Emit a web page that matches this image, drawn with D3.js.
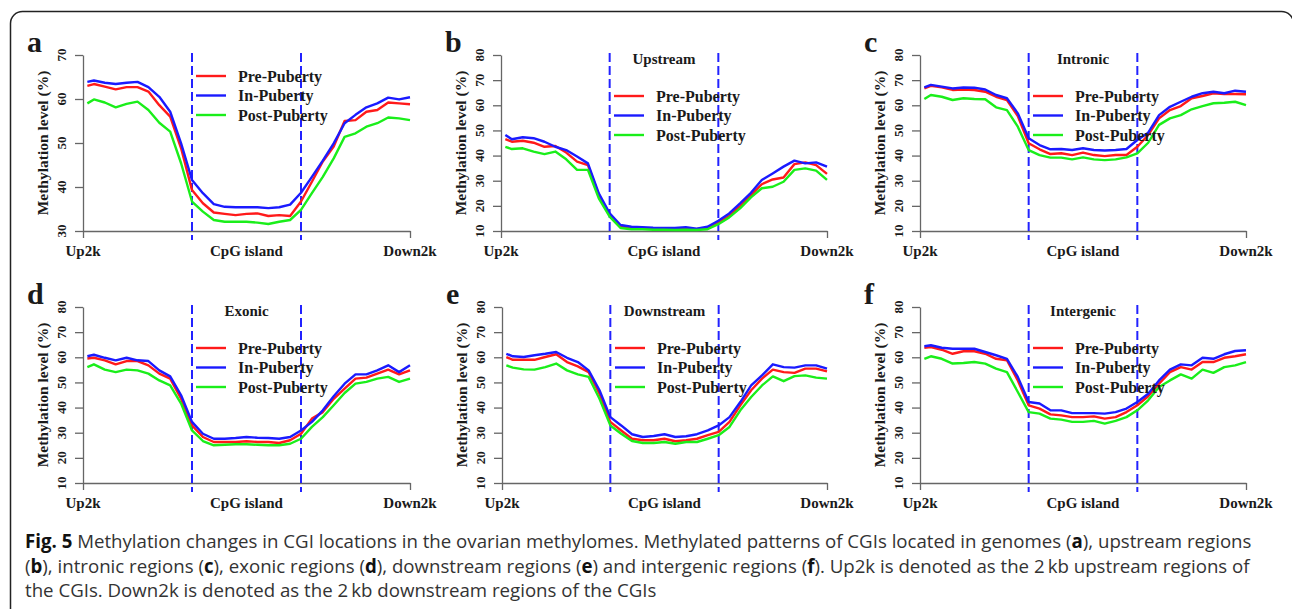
<!DOCTYPE html>
<html lang="en">
<head>
<meta charset="utf-8">
<title>Fig. 5 CGI methylation</title>
<script src="https://cdnjs.cloudflare.com/ajax/libs/d3/7.8.5/d3.min.js"></script>
<style>
	body { margin: 0; background: #fff; }
	svg { display: block; }
	.ser { font-family: "Liberation Serif", "Times New Roman", serif; font-weight: bold; fill: #1a1a1a; }
	.cap { font-family: "Open Sans", "Noto Sans", sans-serif; fill: #333; }
</style>
</head>
<body>
<svg id="fig" width="1292" height="609"></svg>
<script>
// bin positions along Up2k | CpG island | Down2k (0..3)
var binPos = [0.04,0.1,0.2,0.3,0.4,0.5,0.6,0.7,0.8,0.9,1.0,1.1,1.2,1.3,1.4,1.5,1.6,1.7,1.8,1.9,2.0,2.1,2.2,2.3,2.4,2.5,2.6,2.7,2.8,2.9,3.0];
var xLabels = ['Up2k', 'CpG island', 'Down2k'];
var xLabelPos = [0, 1.5, 3];
var seriesNames = ['Pre-Puberty', 'In-Puberty', 'Post-Puberty'];
var seriesColors = ['#ff1a1a', '#1a1aff', '#1aee1a'];

// a: genomes
var genomePre  = [63.0,63.4,62.8,62.2,62.7,62.7,61.7,58.6,56.0,48.8,39.3,36.3,34.2,33.9,33.6,33.9,34.0,33.4,33.6,33.4,36.7,41.2,45.8,49.2,55.0,55.2,57.1,57.5,59.2,59.0,58.8];
var genomeIn   = [63.9,64.2,63.7,63.4,63.7,63.9,62.7,60.5,57.1,49.9,41.6,38.6,36.1,35.5,35.4,35.4,35.4,35.2,35.4,36.0,38.7,42.3,46.0,49.9,54.5,56.4,58.1,59.0,60.3,59.9,60.4];
var genomePost = [59.0,59.9,59.2,58.1,58.9,59.4,57.5,54.6,52.6,45.4,36.7,34.4,32.5,32.1,32.1,32.1,31.9,31.6,32.1,32.5,34.8,38.6,42.3,46.5,51.4,52.2,53.7,54.5,55.8,55.6,55.2];
// b: upstream
var upPre  = [46.5,45.5,45.9,45.1,43.5,43.8,41.2,37.6,36.2,24.3,16.4,11.7,11.3,11.2,10.9,10.9,10.8,10.9,10.7,11.2,13.3,16.0,19.9,24.3,28.6,30.5,31.3,36.6,37.3,36.2,32.7];
var upIn   = [48.2,46.5,47.3,46.9,45.5,43.5,42.2,39.6,36.9,25.0,17.0,12.4,11.7,11.5,11.3,11.2,11.2,11.5,10.9,11.7,14.1,17.0,21.0,25.2,30.3,32.9,35.6,38.0,36.9,37.3,35.6];
var upPost = [43.5,42.6,42.9,41.6,40.6,41.6,38.5,34.3,34.3,23.0,15.7,11.2,10.7,10.7,10.5,10.5,10.4,10.5,10.4,10.7,12.7,15.4,19.0,23.4,27.0,27.6,29.6,34.3,34.9,34.0,30.3];
// c: intronic
var intronPre  = [66.7,67.7,67.1,66.1,66.3,66.1,65.4,63.4,62.1,55.7,44.9,42.5,40.6,40.9,40.2,41.2,40.2,39.8,40.2,40.2,43.5,48.2,54.8,58.1,59.7,62.8,63.7,64.8,64.5,64.5,64.4];
var intronIn   = [67.1,68.1,67.4,66.7,67.1,67.0,66.3,64.1,62.8,56.8,46.9,44.2,42.5,42.6,42.2,42.9,42.2,42.0,42.2,42.6,46.2,49.1,56.1,59.4,61.4,63.4,64.8,65.4,64.8,65.8,65.4];
var intronPost = [62.5,64.1,63.4,62.1,62.8,62.5,62.4,59.2,58.1,51.5,42.2,40.2,39.2,39.2,38.5,39.3,38.5,38.2,38.5,39.3,40.9,45.1,52.2,54.8,56.1,58.4,59.7,60.8,61.0,61.4,60.1];
// d: exonic
var exonPre  = [59.5,59.8,58.8,57.2,58.5,58.5,56.8,53.5,51.5,43.5,32.9,28.3,26.3,26.3,26.3,26.6,26.3,26.3,25.9,27.0,29.6,35.6,38.2,43.5,47.5,51.5,51.9,53.5,55.1,53.2,54.8];
var exonIn   = [60.4,61.0,59.8,58.8,59.8,58.8,58.5,54.8,52.4,44.9,34.3,29.6,27.6,27.6,27.9,28.3,28.0,27.9,27.6,28.3,30.9,34.3,38.9,44.5,49.5,53.2,53.2,54.8,56.8,54.1,56.8];
var exonPost = [56.1,57.2,55.1,54.1,55.1,54.8,53.5,50.8,48.8,41.6,30.9,26.7,25.0,25.2,25.4,25.4,25.2,25.0,25.0,25.6,27.6,32.3,36.2,40.9,45.8,49.5,50.2,51.5,52.2,50.2,51.5];
// e: downstream
var downPre  = [60.1,59.0,59.0,59.0,60.1,61.2,58.1,56.4,54.1,45.5,34.3,30.9,27.6,27.0,27.0,27.6,26.6,27.0,27.6,29.0,30.3,34.3,40.9,46.9,51.5,55.1,54.1,53.8,55.5,55.5,54.4];
var downIn   = [61.4,60.4,60.1,60.8,61.4,62.1,59.8,58.1,54.8,46.9,36.2,32.9,29.4,28.3,28.7,29.4,28.3,28.6,29.4,30.9,32.9,36.2,42.2,48.8,52.8,57.2,56.1,55.9,56.8,56.8,55.5];
var downPost = [56.8,55.9,55.2,55.1,56.1,57.5,54.8,53.2,52.2,43.5,32.9,29.6,26.7,25.9,25.9,26.3,25.6,26.3,26.3,27.6,29.0,32.3,38.9,44.2,48.8,52.4,50.5,52.5,52.8,51.9,51.5];
// f: intergenic
var interPre  = [63.8,64.1,63.0,61.4,62.4,62.4,61.4,59.4,58.8,50.8,40.9,39.6,37.3,36.9,36.2,36.2,36.5,35.6,36.2,38.2,40.9,44.5,49.5,54.1,56.1,55.1,58.1,58.1,59.8,60.4,61.2];
var interIn   = [64.4,64.8,63.8,63.4,63.4,63.4,62.1,60.8,59.4,52.2,42.2,41.6,38.9,38.9,37.8,37.8,37.8,37.6,38.2,39.6,42.2,45.5,50.8,55.1,57.2,56.8,59.8,59.4,61.2,62.5,62.8];
var interPost = [59.4,60.4,59.4,57.5,57.7,58.1,57.5,55.5,54.1,46.2,38.2,37.6,35.6,35.2,34.3,34.3,34.7,33.6,34.7,36.2,38.9,42.9,48.2,50.8,53.2,51.5,55.1,53.8,56.1,56.8,58.1];

var ticksA = [30, 40, 50, 60, 70];
var ticksB = [10, 20, 30, 40, 50, 60, 70, 80];

var panels = [
	{ key: 'a', title: null,         x0: 83,  x1: 410,  top: 55,  bottom: 231, dom: [30, 70], ticks: ticksA, data: [genomePre, genomeIn, genomePost] },
	{ key: 'b', title: 'Upstream',   x0: 501, x1: 827,  top: 55,  bottom: 231, dom: [10, 80], ticks: ticksB, data: [upPre, upIn, upPost] },
	{ key: 'c', title: 'Intronic',   x0: 920, x1: 1246, top: 55,  bottom: 231, dom: [10, 80], ticks: ticksB, data: [intronPre, intronIn, intronPost] },
	{ key: 'd', title: 'Exonic',     x0: 83,  x1: 410,  top: 307, bottom: 483, dom: [10, 80], ticks: ticksB, data: [exonPre, exonIn, exonPost] },
	{ key: 'e', title: 'Downstream', x0: 502, x1: 827,  top: 307, bottom: 483, dom: [10, 80], ticks: ticksB, data: [downPre, downIn, downPost] },
	{ key: 'f', title: 'Intergenic', x0: 920, x1: 1246, top: 307, bottom: 483, dom: [10, 80], ticks: ticksB, data: [interPre, interIn, interPost] }
];

var svg = d3.select('#fig');

// outer rounded frame (runs off the right and bottom edge)
svg.append('rect')
	.attr('x', 10.5).attr('y', 11.5)
	.attr('width', 1283).attr('height', 700)
	.attr('rx', 12)
	.attr('fill', 'none')
	.attr('stroke', '#222')
	.attr('stroke-width', 1.5);

panels.forEach(function(p) {
	var x = d3.scaleLinear().domain([0, 3]).range([p.x0, p.x1]);
	var y = d3.scaleLinear().domain(p.dom).range([p.bottom, p.top]);
	var g = svg.append('g');

	// y axis
	var ya = g.append('g')
		.attr('transform', 'translate(' + p.x0 + ',0)')
		.call(d3.axisLeft(y).tickValues(p.ticks).tickSize(8).tickSizeOuter(0).tickFormat(''));
	ya.select('.domain').attr('stroke', '#666').attr('stroke-width', 1.3);
	ya.selectAll('.tick line').attr('stroke', '#666').attr('stroke-width', 1.3);

	g.selectAll('.ytl').data(p.ticks).enter().append('text')
		.attr('class', 'ser')
		.attr('font-size', 13)
		.attr('text-anchor', 'middle')
		.attr('transform', function(d) { return 'translate(' + (p.x0 - 17) + ',' + y(d) + ') rotate(-90)'; })
		.text(function(d) { return d; });

	g.append('text')
		.attr('class', 'ser')
		.attr('font-size', 15.5)
		.attr('text-anchor', 'middle')
		.attr('transform', 'translate(' + (p.x0 - 35) + ',' + ((p.top + p.bottom) / 2) + ') rotate(-90)')
		.text('Methylation level (%)');

	// x axis, ticks only at the two ends
	var xa = g.append('g')
		.attr('transform', 'translate(0,' + p.bottom + ')')
		.call(d3.axisBottom(x).tickValues([0, 3]).tickSize(7).tickSizeOuter(0).tickFormat(''));
	xa.select('.domain').attr('stroke', '#666').attr('stroke-width', 1.3);
	xa.selectAll('.tick line').attr('stroke', '#666').attr('stroke-width', 1.3);

	g.selectAll('.xtl').data(xLabels).enter().append('text')
		.attr('class', 'ser')
		.attr('font-size', 15)
		.attr('text-anchor', 'middle')
		.attr('x', function(d, i) { return x(xLabelPos[i]); })
		.attr('y', p.bottom + 25)
		.text(function(d) { return d; });

	// CGI boundaries
	g.selectAll('.bound').data([1, 2]).enter().append('line')
		.attr('x1', function(d) { return x(d); })
		.attr('x2', function(d) { return x(d); })
		.attr('y1', p.top - 2)
		.attr('y2', p.bottom + 9)
		.attr('stroke', '#2222ff')
		.attr('stroke-width', 2)
		.attr('stroke-dasharray', '9,4');

	// series
	var line = d3.line()
		.x(function(d, i) { return x(binPos[i]); })
		.y(function(d) { return y(d); });

	p.data.forEach(function(s, k) {
		g.append('path')
			.datum(s)
			.attr('d', line)
			.attr('fill', 'none')
			.attr('stroke', seriesColors[k])
			.attr('stroke-width', 2.4)
			.attr('stroke-linejoin', 'round');
	});

	// panel letter
	g.append('text')
		.attr('class', 'ser')
		.attr('font-size', 30)
		.attr('x', p.x0 - 56)
		.attr('y', p.top - 3)
		.text(p.key);

	// title
	if (p.title) {
		g.append('text')
			.attr('class', 'ser')
			.attr('font-size', 15)
			.attr('text-anchor', 'middle')
			.attr('x', x(1.5))
			.attr('y', p.top + 9)
			.text(p.title);
	}

	// legend
	var ly = p.title ? p.top + 41 : p.top + 21;
	seriesNames.forEach(function(n, k) {
		var yy = ly + k * 19.5;
		g.append('line')
			.attr('x1', p.x0 + 113).attr('x2', p.x0 + 143)
			.attr('y1', yy).attr('y2', yy)
			.attr('stroke', seriesColors[k])
			.attr('stroke-width', 2.4);
		g.append('text')
			.attr('class', 'ser')
			.attr('font-size', 16)
			.attr('x', p.x0 + 155)
			.attr('y', yy + 5.5)
			.text(n);
	});
});

// caption
var capLines = [
	[['Fig. 5', 1], [' Methylation changes in CGI locations in the ovarian methylomes. Methylated patterns of CGIs located in genomes (', 0], ['a', 1], ['), upstream regions', 0]],
	[['(', 0], ['b', 1], ['), intronic regions (', 0], ['c', 1], ['), exonic regions (', 0], ['d', 1], ['), downstream regions (', 0], ['e', 1], [') and intergenic regions (', 0], ['f', 1], ['). Up2k is denoted as the 2\u2009kb upstream regions of', 0]],
	[['the CGIs. Down2k is denoted as the 2\u2009kb downstream regions of the CGIs', 0]]
];

var capTexts = capLines.map(function(parts, i) {
	var t = svg.append('text')
		.attr('class', 'cap')
		.attr('x', 25)
		.attr('y', 548 + i * 24.5)
		.attr('font-size', 18);
	parts.forEach(function(pt) {
		t.append('tspan')
			.attr('font-weight', pt[1] ? 'bold' : 'normal')
			.attr('fill', pt[1] ? '#111' : '#333')
			.text(pt[0]);
	});
	return t;
});

var w0 = capTexts[0].node().getComputedTextLength();
var fs = 18 * 1227 / w0;
capTexts.forEach(function(t) { t.attr('font-size', fs); });
</script>
</body>
</html>
